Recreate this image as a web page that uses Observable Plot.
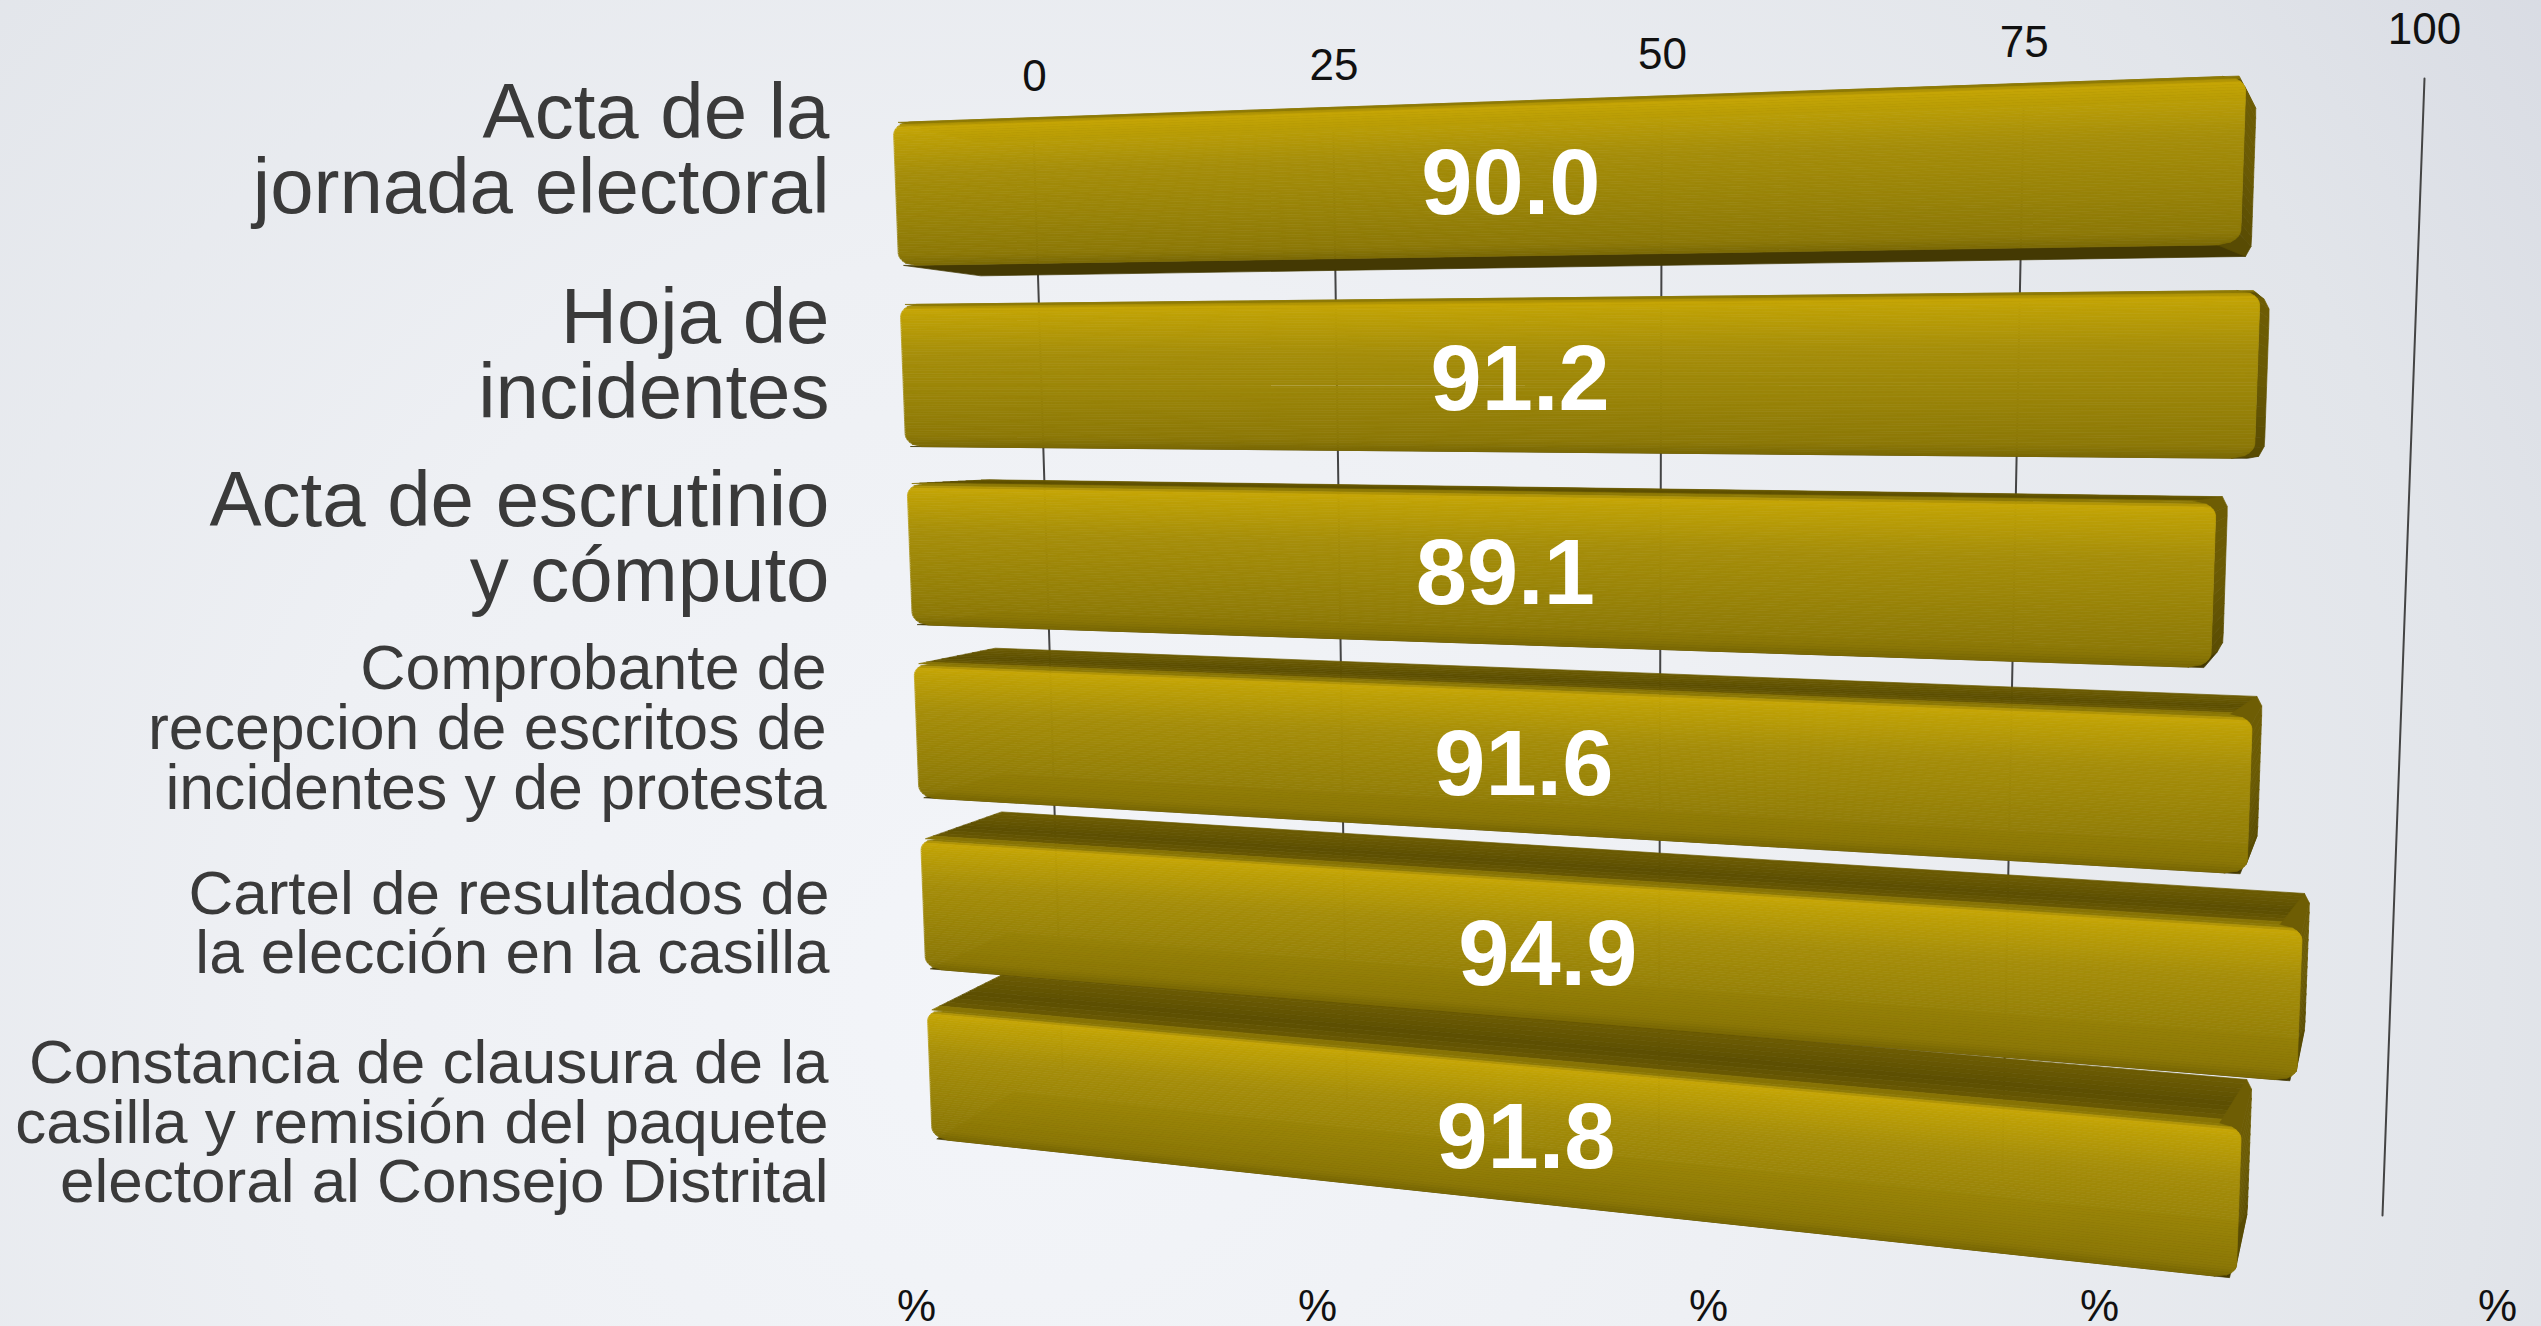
<!DOCTYPE html>
<html>
<head>
<meta charset="utf-8">
<script src="https://cdn.jsdelivr.net/npm/d3@7"></script>
<script src="https://cdn.jsdelivr.net/npm/@observablehq/plot@0.6"></script>
<style>
html,body{margin:0;padding:0;width:2541px;height:1326px;overflow:hidden;
background:radial-gradient(circle 1850px at 40% 75%,#f3f5f9 0%,#eef0f4 40%,#e2e5ea 80%,#d8dbe3 100%);}
svg{display:block;}
</style>
</head>
<body>
<div id="chart"></div>
<script>
// ---- data ----
const categories = [
  "Acta de la\njornada electoral",
  "Hoja de\nincidentes",
  "Acta de escrutinio\ny cómputo",
  "Comprobante de\nrecepcion de escritos de\nincidentes y de protesta",
  "Cartel de resultados de\nla elección en la casilla",
  "Constancia de clausura de la\ncasilla y remisión del paquete\nelectoral al Consejo Distrital"
];
const values = [90.0, 91.2, 89.1, 91.6, 94.9, 91.8];
const tickValues = [0, 25, 50, 75, 100];

// ---- layout of the tilted 3D scene ----
const W = 2541, H = 1326;
const rowTop    = [122, 304, 483, 663, 838, 1009];
const rowBottom = [265, 446, 624, 797, 968, 1138];
const labelY    = [151, 356, 539, 729, 924, 1123];
const labelX    = [829, 829, 829, 826, 829, 828];
const labelSize = [78, 78, 78, 62.6, 62, 62];
const percentX  = [916, 1317, 1708, 2099, 2497];
const FOCUS = 0.00176;
const persp = v => (v / (1 - FOCUS * v)) / (100 / (1 - FOCUS * 100));
const mix = (a, b, t) => a + (b - a) * t;
const plane = (c) => (v, y) => {
  const s = (y - c.y0t) / (c.y0b - c.y0t), t = persp(v);
  return [mix(mix(c.x0t, c.x0b, s), mix(c.x1t, c.x1b, s), t),
          mix(mix(c.y0t, c.y0b, s), mix(c.y1t, c.y1b, s), t)];
};
const front = plane({x0t:893, x0b:932, x1t:2428, x1b:2377, y0t:122, y0b:1138, y1t:69, y1b:1293});
const wall  = plane({x0t:1033, x0b:1062, x1t:2424, x1b:2382, y0t:130, y0b:1067, y1t:78, y1b:1215});
const back = ([x, y]) => [x + (2450 - x) * 0.05, y + (425 - y) * 0.065];
const between = (p, q, d) => [mix(p[0], q[0], d), mix(p[1], q[1], d)];

const ramp = (stops) => d3.scaleLinear().domain(stops.map(d => d[0])).range(stops.map(d => d[1]));
const frontColor = ramp([[0,"#7d6c06"],[0.035,"#c6a606"],[0.10,"#bda006"],[0.35,"#a68e0a"],[0.7,"#978208"],[0.93,"#8c7807"],[1,"#7a6805"]]);
const topColor   = ramp([[0,"#6d5c03"],[0.6,"#5c4e02"],[0.9,"#6a5a03"],[1,"#a48c05"]]);
const sideColor  = ramp([[0,"#6e5d04"],[0.5,"#6a5a04"],[1,"#574a03"]]);
const underColor = ramp([[0,"#4e4203"],[1,"#3a3002"]]);

const poly = (pts, color) => ({type: "Polygon", coordinates: [[...pts, pts[0]]], color});
const faces = [];
for (let i = values.length - 1; i >= 0; --i) {
  const v = values[i], yT = rowTop[i], yB = rowBottom[i];
  const vIn = 1.3, hIn = 0.09;
  const inset = f => {
    const d = Math.min(f, 1 - f);
    if (d >= hIn) return 0;
    const q = 1 - d / hIn;
    return vIn * (1 - Math.sqrt(1 - q * q));
  };
  const L = f => front(inset(f), mix(yT, yB, f));
  const R = f => front(v - inset(f), mix(yT, yB, f));
  const Rb = f => back(front(v - inset(f) * 0.25, mix(yT, yB, f)));
  // top face
  const tl = front(vIn * 0.3, yT), tr = front(v - vIn * 0.3, yT);
  const trb = Rb(0), tlb = back(tl);
  const n1 = 10;
  for (let k = 0; k < n1; ++k) {
    const d0 = 1 - k / n1, d1 = 1 - (k + 1) / n1;
    faces.push(poly([between(tl, tlb, d0), between(tr, trb, d0), between(tr, trb, d1), between(tl, tlb, d1)], topColor((k + .5) / n1)));
  }
  // under face
  const bl = front(vIn * 0.3, yB), br = front(v - vIn * 0.3, yB);
  faces.push(poly([bl, br, Rb(1), back(bl)], underColor(0.5)));
  // right end
  const n2 = 16;
  for (let k = 0; k < n2; ++k) {
    const f0 = k / n2, f1 = (k + 1) / n2;
    faces.push(poly([R(f0), Rb(f0), Rb(f1), R(f1)], sideColor((k + .5) / n2)));
  }
  // front face, cut in thin strips to carry the shading
  const n3 = 60;
  for (let k = 0; k < n3; ++k) {
    const f0 = k / n3, f1 = (k + 1) / n3;
    faces.push(poly([L(f0), R(f0), R(f1), L(f1)], frontColor((f0 + f1) / 2)));
  }
}

const gridLines = tickValues.map(t => ({type: "LineString", coordinates: [wall(t, 130), wall(t, 1067)]}));

// axis labels: the tick number sits above, its "%" fell to the bottom edge
const topRail = t => [mix(1034, 2424, persp(t)), mix(76, 29, persp(t))];
const barLabels = values.map((v, i) => {
  const [x, y] = front(v / 2, (rowTop[i] + rowBottom[i]) / 2);
  return {x: x - 1, y: y + 6, text: v.toFixed(1)};
});
const catLabels = categories.map((c, i) => ({x: labelX[i], y: labelY[i], text: c, size: labelSize[i]}));

const font = "'Liberation Sans', Arial, sans-serif";
const plot = Plot.plot({
  width: W, height: H,
  margin: 0,
  projection: d3.geoTransform({point(x, y) { this.stream.point(x, y); }}),
  color: {type: "identity"},
  style: {background: "transparent", fontFamily: font},
  marks: [
    Plot.geo(gridLines, {stroke: "#444", strokeWidth: 2}),
    Plot.geo(faces, {fill: d => d.color, stroke: d => d.color, strokeWidth: 0.7}),
    Plot.text(tickValues, {x: t => topRail(t)[0], y: t => topRail(t)[1], text: t => String(t), fontSize: 44, fill: "#111"}),
    Plot.text(tickValues, {x: (t, i) => percentX[i], y: () => 1306, text: () => "%", fontSize: 44, fill: "#111"}),
    Plot.text(catLabels, {x: "x", y: "y", text: "text", textAnchor: "end", fontSize: d => d.size, lineHeight: 0.96, fill: "#3a3a3a"}),
    Plot.text(barLabels, {x: "x", y: "y", text: "text", fontSize: 92, fontWeight: "bold", fill: "#ffffff"})
  ]
});
document.getElementById("chart").appendChild(plot);
</script>
</body>
</html>
